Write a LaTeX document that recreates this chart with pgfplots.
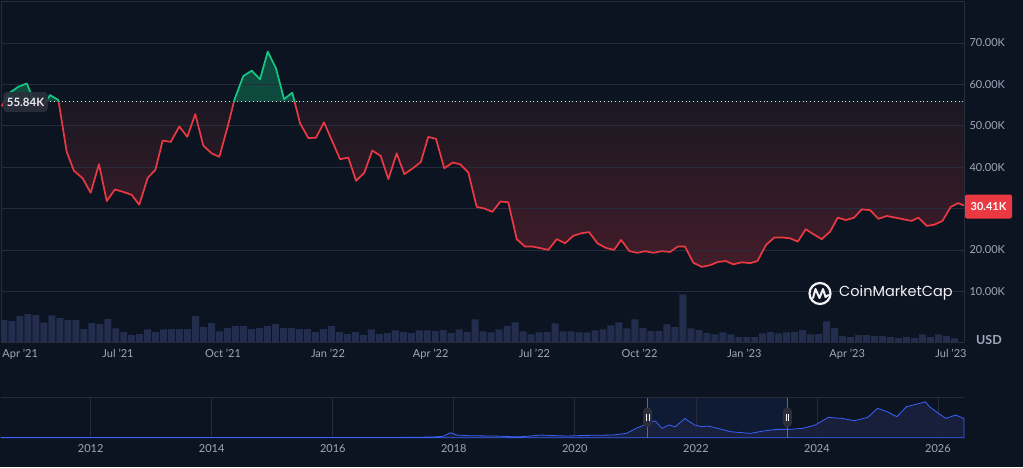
\documentclass[border=0pt]{standalone}
\usepackage{pgfplots}
\pgfplotsset{compat=1.18}
\usepackage{fontspec}
\setmainfont{Lato}
\newfontfamily\logofont{Poppins}
\definecolor{bg}{HTML}{0D1421}
\definecolor{gridc}{HTML}{262C3B}
\definecolor{txt}{HTML}{A1A7BB}
\definecolor{cmcgreen}{HTML}{16C784}
\definecolor{cmcred}{HTML}{EA3943}
\definecolor{redtop}{HTML}{0E1721}
\definecolor{redbot}{HTML}{431C29}
\definecolor{volc}{HTML}{232D4D}
\definecolor{navline}{HTML}{3861FB}
\definecolor{navfill}{HTML}{1B2240}
\definecolor{selc}{HTML}{0F1A33}
\definecolor{lblbg}{HTML}{2A2F3B}
\pgfplotsset{mainax/.style={at={(1pt,-342.3pt)}, anchor=south west, scale only axis,
  width=963pt, height=341.3pt, xmin=-11.57, xmax=832.4, ymin=-2.32, ymax=80.12, clip=true}}

\pgfplotstableread{
d p
-11.0 54.7
-3.7 58.0
3.6 59.4
11.0 60.2
17.4 56.0
24.4 54.5
31.4 57.4
38.7 56.2
46.0 43.7
52.4 39.1
60.0 37.3
67.0 33.8
74.3 40.7
81.1 31.8
88.3 34.6
95.6 34.0
103.0 33.3
109.6 30.9
117.0 37.4
123.7 39.3
130.1 46.4
137.2 46.1
144.7 49.8
151.7 47.3
158.7 52.8
165.7 45.2
173.1 43.3
179.8 42.5
187.1 49.8
192.9 56.2
200.8 62.0
208.2 63.3
215.4 61.2
222.2 67.9
229.4 63.9
236.5 56.4
243.7 58.0
250.5 50.6
257.8 47.0
264.5 47.1
271.5 50.8
285.6 41.9
292.8 42.3
299.6 36.7
306.8 38.6
313.8 44.0
321.2 42.7
327.9 37.1
335.2 43.3
341.9 38.3
349.3 39.7
356.3 41.2
362.9 47.3
369.7 46.8
376.9 39.7
384.3 41.1
390.7 40.7
398.0 38.7
405.3 30.4
412.0 30.0
419.0 29.2
426.2 31.7
433.0 31.5
440.4 22.6
447.7 20.8
454.4 20.8
461.4 20.4
468.1 20.0
475.5 22.6
482.7 21.6
490.0 23.4
496.8 24.0
503.8 24.3
511.1 21.6
518.4 20.5
525.7 20.0
531.9 22.4
539.2 19.7
546.2 19.3
553.2 19.7
560.2 19.3
567.5 19.7
574.8 19.5
581.5 20.8
587.9 20.8
595.2 16.9
602.5 15.9
609.8 16.3
616.8 17.1
623.8 17.3
630.2 16.5
637.6 17.0
644.9 16.8
651.3 17.3
658.9 21.2
666.2 23.0
672.7 23.0
680.0 22.8
686.7 22.0
693.7 25.0
700.4 23.8
707.7 22.6
715.0 24.4
721.8 27.8
728.8 27.2
736.1 27.8
742.8 29.8
750.1 29.6
757.4 27.5
764.7 28.2
772.0 27.8
779.2 27.4
786.6 27.0
792.4 27.8
799.8 25.8
806.5 26.1
813.5 27.0
820.8 30.4
827.5 31.3
832.4 30.7
}\price

\pgfplotstableread{
d v
-9 44.6
-2 42.6
5 52.6
12 56.6
19 54.6
26 39.4
33 54.0
40 48.6
47 44.6
54 44.6
61 26.6
68 38.6
75 36.6
82 46.6
89 28.0
96 20.6
103 14.6
110 16.6
117 26.0
124 20.6
131 26.0
138 26.6
145 26.6
152 26.6
159 52.6
166 30.6
173 38.6
180 22.0
187 28.6
194 32.6
201 32.6
208 26.6
215 28.6
222 32.6
229 36.6
236 28.6
243 28.6
250 26.6
257 26.6
264 20.6
271 26.6
278 32.6
285 20.6
292 16.6
299 20.6
306 14.6
313 26.0
320 16.6
327 18.6
334 24.0
341 20.6
348 18.6
355 24.0
362 24.0
369 22.6
376 24.6
383 18.6
390 26.0
397 20.6
404 46.0
411 22.0
418 20.0
425 26.0
432 32.6
439 40.0
446 22.0
453 16.0
460 20.0
467 20.6
474 38.0
481 22.0
488 22.0
495 20.0
502 20.0
509 24.0
516 26.0
523 34.0
530 40.0
537 28.0
544 46.0
551 28.6
558 22.6
565 22.6
572 36.0
579 30.6
586 96.0
593 28.0
600 24.6
607 18.6
614 16.0
621 20.0
628 16.0
635 10.6
642 10.6
649 10.6
656 18.0
663 20.6
670 18.0
677 20.0
684 20.6
691 24.6
698 16.0
705 16.6
712 42.0
719 28.6
726 12.6
733 10.6
740 14.6
747 14.6
754 12.6
761 12.6
768 10.6
775 8.6
782 10.6
789 8.6
796 16.0
803 10.6
810 16.0
817 12.6
824 8.0
}\volume

\pgfplotstableread{
y v
2010.52 0.6
2013.00 0.6
2015.00 0.6
2017.00 0.8
2017.40 1.2
2017.70 2.5
2017.83 4.5
2017.94 15
2018.05 8
2018.26 6
2018.69 5
2018.95 3
2019.12 3
2019.45 8
2019.70 6
2019.88 5
2020.20 7
2020.63 8
2020.85 13
2021.01 28
2021.17 40
2021.28 48
2021.33 50
2021.44 28
2021.55 38
2021.66 33
2021.82 58
2021.87 51
2021.98 38
2022.09 33
2022.20 35
2022.36 28
2022.57 18
2022.90 13
2023.11 20
2023.33 25
2023.54 25
2023.76 28
2023.97 38
2024.19 61
2024.41 58
2024.62 51
2024.84 61
2025.00 88
2025.16 78
2025.32 63
2025.48 93
2025.70 103
2025.79 108
2025.86 93
2025.97 78
2026.13 58
2026.29 68
2026.43 58
}\nav

\begin{document}
\begin{tikzpicture}[x=1pt,y=1pt]
\useasboundingbox (0,0) rectangle (1023,-467);
\fill[bg] (0,0) rectangle (1023,-467);

% volume bars
\begin{axis}[mainax, ymin=0, ymax=682.6, hide axis]
\addplot[ybar, bar width=6.1, fill=volc, draw=none] table[x=d,y=v]{\volume};
\end{axis}

% main price axis: frame and ticks
\begin{axis}[mainax,
  axis line style={gridc, line width=0.8pt},
  major tick length=0pt,
  ytick={10,20,30,40,50,60,70},
  yticklabels={10.00K,20.00K,30.00K,40.00K,50.00K,60.00K,70.00K},
  yticklabel pos=right,
  yticklabel style={anchor=west, xshift=2pt},
  xtick={0,91,183,275,365,456,548,640,730,821},
  xticklabels={\hspace*{12pt}Apr '21,Jul '21,Oct '21,Jan '22,Apr '22,Jul '22,Oct '22,Jan '23,Apr '23,Jul '23},
  xticklabel style={yshift=-3pt},
  tick label style={font=\fontsize{11}{13}\selectfont, text=txt}]
\addplot[draw=none] coordinates {(0,10) (800,10)};
\end{axis}

% below the base line: red area
\begin{scope}
\clip (0,-101.52) rectangle (1023,-467);
\begin{axis}[mainax, hide axis]
\addplot[draw=none, top color=redtop, bottom color=redbot] table[x=d,y=p]{\price}
  -- (axis cs:832.4,55.84) -- (axis cs:-11.0,55.84) -- cycle;
\end{axis}
\end{scope}

% above the base line: green area
\begin{scope}
\clip (0,0) rectangle (1023,-101.52);
\begin{axis}[mainax, hide axis]
\addplot[draw=none, fill=cmcgreen, fill opacity=0.3] table[x=d,y=p]{\price}
  -- (axis cs:832.4,55.84) -- (axis cs:-11.0,55.84) -- cycle;
\end{axis}
\end{scope}

% grid lines over the areas, and the dotted base line
\begin{axis}[mainax, axis line style={draw=none}, major tick length=0pt,
  ymajorgrids, grid style={gridc, line width=0.8pt},
  ytick={10,20,30,40,50,60,70}, yticklabels={}, xtick=\empty]
\addplot[color=white!75!gray, line width=0.9pt, dash pattern=on 0.9pt off 3pt] coordinates {(-20,55.84) (840,55.84)};
\end{axis}

% price line: red below, green above the base line
\begin{scope}
\clip (0,-101.52) rectangle (1023,-467);
\begin{axis}[mainax, hide axis]
\addplot[cmcred, line width=1.7pt, line join=round] table[x=d,y=p]{\price};
\end{axis}
\end{scope}
\begin{scope}
\clip (0,0) rectangle (1023,-101.52);
\begin{axis}[mainax, hide axis]
\addplot[cmcgreen, line width=1.7pt, line join=round] table[x=d,y=p]{\price};
\end{axis}
\end{scope}

% price labels
\node[fill=lblbg, fill opacity=0.9, text opacity=1, rounded corners=4pt, text=white!80!txt,
  font=\fontsize{11.5}{13}\selectfont\bfseries, minimum width=45pt, minimum height=20pt, inner sep=0pt]
  at (25.5,-102) {55.84K};
\node[fill=cmcred, rounded corners=2pt, text=white,
  font=\fontsize{11}{13}\selectfont\bfseries, minimum width=47pt, minimum height=24pt, inner sep=0pt]
  at (988.5,-206.5) {30.41K};
\node[text=txt, font=\fontsize{12.5}{14}\selectfont\bfseries, anchor=west, inner sep=0pt] at (976,-340) {USD};

% watermark
\draw[white!85!txt, line width=2.2pt] (820,-293.5) circle (10.5);
\draw[white!85!txt, line width=2pt, line join=round, line cap=round]
  (813,-298) -- (815.5,-289) -- (819.5,-298) -- (823,-289) -- (825.5,-297) -- (828.5,-295);
\node[text=white!85!txt, font=\logofont\fontsize{14.5}{17}\selectfont, anchor=west, inner sep=0pt] at (839,-293) {CoinMarketCap};

% navigator
\fill[selc] (647.7,-397.7) rectangle (787.4,-437.7);
\begin{axis}[at={(1pt,-437.7pt)}, anchor=south west, scale only axis,
  width=963pt, height=40pt, xmin=2010.518, xmax=2026.43, ymin=0, ymax=120,
  axis line style={draw=none}, major tick length=0pt,
  xmajorgrids, ymajorgrids, grid style={gridc, line width=0.8pt},
  xtick={2012,2014,2016,2018,2020,2022,2024,2026},
  ytick={120}, yticklabels={},
  x tick label style={/pgf/number format/1000 sep={}, /pgf/number format/assume math mode=true,
     font=\fontsize{11}{13}\selectfont, text=txt, yshift=-3pt},
  clip=false]
\addplot[draw=navline, line width=0.8pt, fill=navfill, fill opacity=0.85] table[x=y,y=v]{\nav} \closedcycle;
\end{axis}
\foreach \hx in {647.7,787.4}{
  \draw[gridc!70!white, line width=0.8pt] (\hx,-397.7) -- (\hx,-437.7);
  \fill[lblbg, rounded corners=4pt] (\hx-4.5,-407.5) rectangle (\hx+4.5,-427);
  \draw[white!85!txt, line width=0.7pt] (\hx-1.2,-413.5) -- (\hx-1.2,-421);
  \draw[white!85!txt, line width=0.7pt] (\hx+1.2,-413.5) -- (\hx+1.2,-421);
}
\end{tikzpicture}
\end{document}
